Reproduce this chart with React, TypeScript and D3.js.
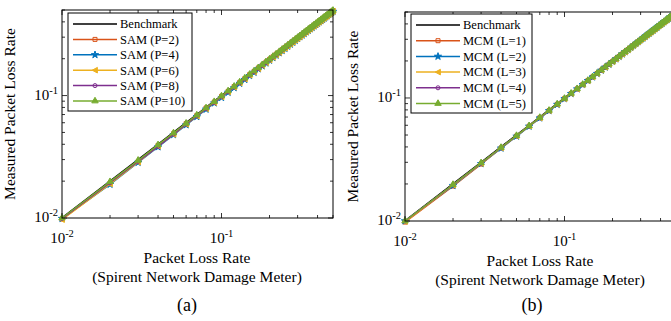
import React from 'react';
import * as d3 from 'd3';

const PLR = [
  0.01, 0.02, 0.03, 0.04, 0.05, 0.06, 0.07, 0.08, 0.09, 0.1,
  0.11, 0.12, 0.13, 0.14, 0.15, 0.16, 0.17, 0.18, 0.19, 0.2,
  0.21, 0.22, 0.23, 0.24, 0.25, 0.26, 0.27, 0.28, 0.29, 0.3,
  0.31, 0.32, 0.33, 0.34, 0.35, 0.36, 0.37, 0.38, 0.39, 0.4,
  0.41, 0.42, 0.43, 0.44, 0.45, 0.46, 0.47, 0.48, 0.49, 0.5,
];

const BENCHMARK = PLR;

const SAM_P2 = [
  0.0098, 0.0192, 0.0288, 0.0392, 0.0488, 0.059, 0.0688, 0.0792, 0.0885, 0.0985,
  0.1082, 0.1185, 0.128, 0.1378, 0.1482, 0.1575, 0.168, 0.1772, 0.188, 0.1975,
  0.207, 0.2178, 0.2265, 0.2372, 0.247, 0.2568, 0.2665, 0.277, 0.2862, 0.2968,
  0.3065, 0.316, 0.3268, 0.3358, 0.3465, 0.356, 0.3658, 0.3765, 0.3852, 0.396,
  0.4058, 0.415, 0.4262, 0.4348, 0.4455, 0.4552, 0.465, 0.476, 0.4845, 0.495,
];
const SAM_P4 = [
  0.0099, 0.0188, 0.0284, 0.038, 0.0478, 0.0575, 0.0672, 0.0772, 0.0868, 0.0962,
  0.106, 0.1158, 0.1255, 0.135, 0.1452, 0.1545, 0.1648, 0.1742, 0.184, 0.1938,
  0.2035, 0.2132, 0.223, 0.233, 0.2425, 0.2525, 0.262, 0.2718, 0.2815, 0.2915,
  0.301, 0.3108, 0.3205, 0.3302, 0.34, 0.3498, 0.3595, 0.3692, 0.379, 0.3888,
  0.3985, 0.4082, 0.418, 0.4278, 0.4375, 0.4472, 0.457, 0.4668, 0.4765, 0.4862,
];
const SAM_P6 = [
  0.0097, 0.019, 0.0286, 0.0386, 0.0482, 0.0582, 0.068, 0.078, 0.0876, 0.0975,
  0.1072, 0.117, 0.1268, 0.1365, 0.1465, 0.156, 0.166, 0.1758, 0.1855, 0.1952,
  0.205, 0.215, 0.2245, 0.2345, 0.2442, 0.254, 0.2638, 0.2735, 0.2835, 0.293,
  0.3028, 0.3125, 0.3225, 0.332, 0.342, 0.3515, 0.3612, 0.3712, 0.3808, 0.3905,
  0.4005, 0.41, 0.42, 0.4295, 0.4392, 0.449, 0.4588, 0.4685, 0.4782, 0.488,
];
const SAM_P8 = [
  0.0099, 0.0194, 0.029, 0.0385, 0.0485, 0.0585, 0.0683, 0.0782, 0.088, 0.0978,
  0.1076, 0.1175, 0.1272, 0.137, 0.147, 0.1566, 0.1665, 0.1762, 0.1862, 0.196,
  0.2058, 0.2155, 0.2252, 0.2352, 0.245, 0.2548, 0.2645, 0.2742, 0.2842, 0.294,
  0.3036, 0.3135, 0.3232, 0.333, 0.3428, 0.3525, 0.3622, 0.372, 0.3818, 0.3915,
  0.4012, 0.411, 0.4208, 0.4305, 0.4402, 0.45, 0.4598, 0.4695, 0.4792, 0.489,
];
const SAM_P10 = [
  0.01, 0.0198, 0.0296, 0.0396, 0.0495, 0.0594, 0.0693, 0.0793, 0.0892, 0.0992,
  0.1092, 0.119, 0.129, 0.139, 0.149, 0.1588, 0.1688, 0.1788, 0.1888, 0.1986,
  0.2086, 0.2186, 0.2285, 0.2385, 0.2484, 0.2584, 0.2683, 0.2782, 0.2882, 0.2982,
  0.308, 0.318, 0.328, 0.3378, 0.3478, 0.3578, 0.3676, 0.3776, 0.3875, 0.3974,
  0.4074, 0.4172, 0.4272, 0.437, 0.447, 0.457, 0.4668, 0.4768, 0.4866, 0.4966,
];

const MCM_L1 = [
  0.0098, 0.0192, 0.029, 0.0392, 0.049, 0.059, 0.069, 0.0788, 0.0888, 0.0988,
  0.1086, 0.1186, 0.1284, 0.1384, 0.1482, 0.1582, 0.168, 0.178, 0.1878, 0.1978,
  0.2076, 0.2176, 0.2274, 0.2372, 0.2472, 0.257, 0.267, 0.2768, 0.2866, 0.2966,
  0.3064, 0.3162, 0.3262, 0.336, 0.3458, 0.3558, 0.3656, 0.3754, 0.3852, 0.3952,
  0.405, 0.4148, 0.4246, 0.4346, 0.4444, 0.4542, 0.464, 0.474, 0.4838, 0.4936,
];
const MCM_L2 = [
  0.01, 0.0194, 0.0292, 0.039, 0.0488, 0.0588, 0.0686, 0.0786, 0.0884, 0.0984,
  0.1082, 0.1182, 0.128, 0.138, 0.1478, 0.1578, 0.1676, 0.1776, 0.1874, 0.1974,
  0.2072, 0.2172, 0.227, 0.237, 0.2468, 0.2568, 0.2666, 0.2766, 0.2864, 0.2962,
  0.3062, 0.316, 0.3258, 0.3358, 0.3456, 0.3554, 0.3654, 0.3752, 0.385, 0.395,
  0.4048, 0.4146, 0.4244, 0.4344, 0.4442, 0.454, 0.4638, 0.4738, 0.4836, 0.4934,
];
const MCM_L3 = [
  0.0099, 0.0196, 0.0293, 0.0393, 0.0491, 0.0591, 0.0689, 0.0789, 0.0887, 0.0986,
  0.1086, 0.1184, 0.1284, 0.1382, 0.1482, 0.158, 0.168, 0.1778, 0.1878, 0.1976,
  0.2076, 0.2174, 0.2274, 0.2372, 0.2472, 0.2571, 0.2669, 0.2769, 0.2867, 0.2967,
  0.3066, 0.3164, 0.3264, 0.3362, 0.3462, 0.356, 0.366, 0.3758, 0.3858, 0.3956,
  0.4056, 0.4154, 0.4254, 0.4352, 0.4452, 0.455, 0.465, 0.4748, 0.4848, 0.4946,
];
const MCM_L4 = [
  0.01, 0.0197, 0.0295, 0.0394, 0.0493, 0.0592, 0.0691, 0.079, 0.0889, 0.0988,
  0.1088, 0.1186, 0.1286, 0.1384, 0.1484, 0.1583, 0.1682, 0.1781, 0.188, 0.1979,
  0.2078, 0.2177, 0.2276, 0.2375, 0.2474, 0.2573, 0.2672, 0.2771, 0.287, 0.2969,
  0.3068, 0.3167, 0.3266, 0.3365, 0.3464, 0.3563, 0.3662, 0.3761, 0.386, 0.3959,
  0.4058, 0.4157, 0.4256, 0.4355, 0.4454, 0.4553, 0.4652, 0.4751, 0.485, 0.4949,
];
const MCM_L5 = [
  0.01, 0.0198, 0.0297, 0.0396, 0.0495, 0.0594, 0.0694, 0.0793, 0.0892, 0.0992,
  0.1091, 0.119, 0.129, 0.1389, 0.1488, 0.1588, 0.1687, 0.1786, 0.1886, 0.1985,
  0.2084, 0.2184, 0.2283, 0.2382, 0.2482, 0.2581, 0.268, 0.278, 0.2879, 0.2978,
  0.3078, 0.3177, 0.3276, 0.3376, 0.3475, 0.3574, 0.3674, 0.3773, 0.3872, 0.3972,
  0.4071, 0.417, 0.427, 0.4369, 0.4468, 0.4568, 0.4667, 0.4766, 0.4866, 0.4965,
];

const SAM_LABELS = ['SAM (P=2)', 'SAM (P=4)', 'SAM (P=6)', 'SAM (P=8)', 'SAM (P=10)'];
const MCM_LABELS = ['MCM (L=1)', 'MCM (L=2)', 'MCM (L=3)', 'MCM (L=4)', 'MCM (L=5)'];
const BENCH_LABEL = 'Benchmark';

const MAJOR_TICKS = [0.01, 0.1];
const MAJOR_LABELS = ['-2', '-1'];
const MINOR_TICKS = [0.02, 0.03, 0.04, 0.05, 0.06, 0.07, 0.08, 0.09, 0.2, 0.3, 0.4, 0.5];
const DOMAIN = [0.01, 0.5];

const COLORS = ['#D95319', '#0072BD', '#EDB120', '#7E2F8E', '#77AC30'];
const MARKERS = ['square', 'star', 'triLeft', 'circle', 'triUp'];

const FONT = "'Liberation Serif', 'Times New Roman', serif";

function markerPath(kind: string): string {
  if (kind === 'square') return d3.symbol(d3.symbolSquare, 16)()!;
  if (kind === 'star') return d3.symbol(d3.symbolStar, 16)()!;
  if (kind === 'circle') return d3.symbol(d3.symbolCircle, 13)()!;
  if (kind === 'triUp') return d3.symbol(d3.symbolTriangle, 18)()!;
  return 'M-2.8,0L2.4,-2.8L2.4,2.8Z';
}
function markerFilled(kind: string) {
  return kind === 'star' || kind === 'triUp' || kind === 'triLeft';
}

type PanelProps = {
  left: number; right: number; top: number; bottom: number;
  series: number[][]; labels: string[];
  legend: { x: number; y: number; w: number; h: number; step: number };
  labelCx: number; caption: string; captionX: number;
};

function Panel(p: PanelProps) {
  const x = d3.scaleLog().domain(DOMAIN).range([p.left, p.right]);
  const y = d3.scaleLog().domain(DOMAIN).range([p.bottom, p.top]);
  const line = d3.line<number>().x((_, i) => x(PLR[i])).y((v) => y(v));
  const ticks: any[] = [];
  const addTicks = (vals: number[], len: number, key: string) => {
    vals.forEach((v, i) => {
      const xv = x(v), yv = y(v);
      ticks.push(<line key={key + 'b' + i} x1={xv} x2={xv} y1={p.bottom} y2={p.bottom - len} />);
      ticks.push(<line key={key + 't' + i} x1={xv} x2={xv} y1={p.top} y2={p.top + len} />);
      ticks.push(<line key={key + 'l' + i} x1={p.left} x2={p.left + len} y1={yv} y2={yv} />);
      ticks.push(<line key={key + 'r' + i} x1={p.right} x2={p.right - len} y1={yv} y2={yv} />);
    });
  };
  addTicks(MAJOR_TICKS, 5, 'M');
  addTicks(MINOR_TICKS, 3, 'm');
  const midY = (p.top + p.bottom) / 2;
  const lg = p.legend;
  return (
    <g fontFamily={FONT}>
      <g stroke="#000" strokeWidth={0.8}>{ticks}</g>
      <path d={line(BENCHMARK)!} fill="none" stroke="#000" strokeWidth={1.6} />
      {p.series.map((s, si) => (
        <g key={si}>
          <path d={line(s)!} fill="none" stroke={COLORS[si]} strokeWidth={1.5} />
          {s.map((v, i) => (
            <path key={i} d={markerPath(MARKERS[si])}
              transform={`translate(${x(PLR[i])},${y(v)})`}
              fill={markerFilled(MARKERS[si]) ? COLORS[si] : 'none'}
              stroke={COLORS[si]} strokeWidth={1} />
          ))}
        </g>
      ))}
      <rect x={p.left} y={p.top} width={p.right - p.left} height={p.bottom - p.top}
        fill="none" stroke="#000" strokeWidth={1} />
      {MAJOR_TICKS.map((v, i) => (
        <text key={'xl' + i} x={x(v)} y={p.bottom + 25} textAnchor="middle" fontSize={15}>
          10<tspan dy={-6} fontSize={10.5}>{MAJOR_LABELS[i]}</tspan>
        </text>
      ))}
      {MAJOR_TICKS.map((v, i) => (
        <text key={'yl' + i} x={p.left - 4} y={y(v) + 4} textAnchor="end" fontSize={15}>
          10<tspan dy={-6} fontSize={10.5}>{MAJOR_LABELS[i]}</tspan>
        </text>
      ))}
      <text transform={`translate(${p.left - 47},${midY}) rotate(-90)`} textAnchor="middle" fontSize={15.5}>
        Measured Packet Loss Rate
      </text>
      <text x={p.labelCx} y={p.bottom + 45} textAnchor="middle" fontSize={15.5}>Packet Loss Rate</text>
      <text x={p.labelCx} y={p.bottom + 64} textAnchor="middle" fontSize={15.5}>(Spirent Network Damage Meter)</text>
      <text x={p.captionX} y={311} textAnchor="middle" fontSize={18}>{p.caption}</text>
      <g>
        <rect x={lg.x} y={lg.y} width={lg.w} height={lg.h} fill="#fff" stroke="#000" strokeWidth={1} />
        {[BENCH_LABEL, ...p.labels].map((lab, i) => {
          const ry = lg.y + 11 + i * lg.step;
          const x1 = lg.x + 5, x2 = lg.x + 49;
          const col = i === 0 ? '#000' : COLORS[i - 1];
          return (
            <g key={'lg' + i}>
              <line x1={x1} x2={x2} y1={ry} y2={ry} stroke={col} strokeWidth={1.5} />
              {i > 0 && (
                <path d={markerPath(MARKERS[i - 1])} transform={`translate(${(x1 + x2) / 2},${ry})`}
                  fill={markerFilled(MARKERS[i - 1]) ? col : 'none'} stroke={col} strokeWidth={1} />
              )}
              <text x={x2 + 3} y={ry + 4.3} fontSize={12.5}>{lab}</text>
            </g>
          );
        })}
      </g>
    </g>
  );
}

export default function App() {
  return (
    <svg width={671} height={321} style={{ position: 'absolute', left: 0, top: 0, background: '#fff' }}>
      <rect width={671} height={321} fill="#fff" />
      <Panel left={62} right={333} top={10} bottom={218}
        series={[SAM_P2, SAM_P4, SAM_P6, SAM_P8, SAM_P10]} labels={SAM_LABELS}
        legend={{ x: 68, y: 13, w: 124, h: 98, step: 15.4 }}
        labelCx={197} caption="(a)" captionX={187} />
      <Panel left={405} right={676} top={12} bottom={221}
        series={[MCM_L1, MCM_L2, MCM_L3, MCM_L4, MCM_L5]} labels={MCM_LABELS}
        legend={{ x: 411, y: 14, w: 121, h: 99, step: 15.7 }}
        labelCx={540} caption="(b)" captionX={532} />
    </svg>
  );
}
